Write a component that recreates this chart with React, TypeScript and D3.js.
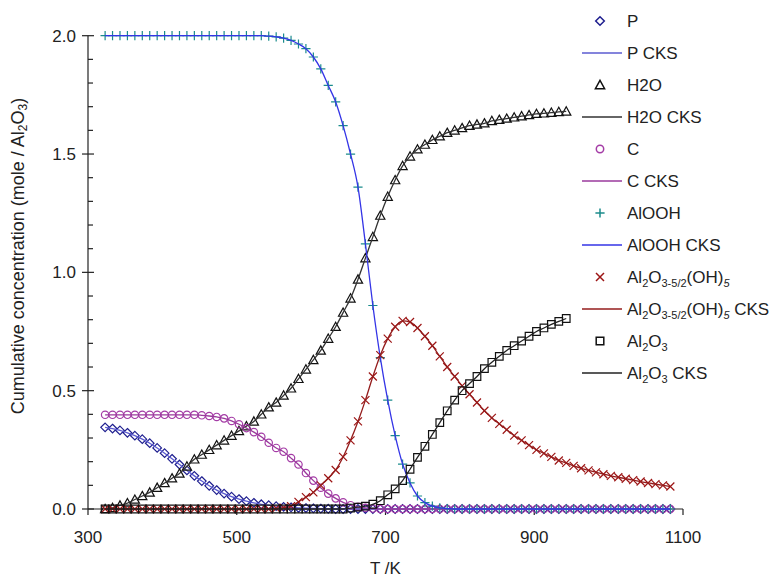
import React from "react";
import * as d3 from "d3";

// Temperatures (K) at which the markers are drawn
const TEMPS = [
  323, 333, 343, 353, 363, 373, 383, 393, 403, 413,
  423, 433, 443, 453, 463, 473, 483, 493, 503, 513,
  523, 533, 543, 553, 563, 573, 583, 593, 603, 613,
  623, 633, 643, 653, 663, 673, 683, 693, 703, 713,
  723, 733, 743, 753, 763, 773, 783, 793, 803, 813,
  823, 833, 843, 853, 863, 873, 883, 893, 903, 913,
  923, 933, 943, 953, 963, 973, 983, 993, 1003, 1013,
  1023, 1033, 1043, 1053, 1063, 1073, 1083,
];

const P_VALUES = [
  0.345, 0.34, 0.332, 0.322, 0.31, 0.295, 0.278, 0.258, 0.236, 0.212,
  0.188, 0.163, 0.14, 0.118, 0.098, 0.08, 0.065, 0.052, 0.042, 0.033,
  0.026, 0.02, 0.016, 0.012, 0.009, 0.007, 0.005, 0.004, 0.003, 0.002,
  0.001, 0, 0, 0, 0, 0, 0, 0, 0, 0,
  0, 0, 0, 0, 0, 0, 0, 0, 0, 0,
  0, 0, 0, 0, 0, 0, 0, 0, 0, 0,
  0, 0, 0, 0, 0, 0, 0, 0, 0, 0,
  0, 0, 0, 0, 0, 0, 0,
];

const H2O_VALUES = [
  0, 0.005, 0.015, 0.025, 0.04, 0.055, 0.07, 0.09, 0.11, 0.13,
  0.15, 0.18, 0.21, 0.23, 0.25, 0.27, 0.29, 0.31, 0.33, 0.35,
  0.37, 0.4, 0.43, 0.45, 0.48, 0.51, 0.55, 0.59, 0.63, 0.67,
  0.72, 0.77, 0.83, 0.89, 0.97, 1.06, 1.15, 1.24, 1.32, 1.39,
  1.45, 1.49, 1.52, 1.54, 1.56, 1.575, 1.59, 1.6, 1.61, 1.62,
  1.625, 1.63, 1.64, 1.645, 1.65, 1.655, 1.66, 1.665, 1.67, 1.672,
  1.675, 1.678, 1.68,
];

const C_VALUES = [
  0.398, 0.398, 0.398, 0.398, 0.398, 0.398, 0.398, 0.398, 0.398, 0.398,
  0.398, 0.398, 0.398, 0.396, 0.393, 0.389, 0.383, 0.372, 0.358, 0.342,
  0.325, 0.305, 0.28, 0.258, 0.242, 0.215, 0.188, 0.152, 0.12, 0.09,
  0.065, 0.045, 0.028, 0.016, 0.009, 0.005, 0.002, 0, 0, 0,
  0, 0, 0, 0, 0, 0, 0, 0, 0, 0,
  0, 0, 0, 0, 0, 0, 0, 0, 0, 0,
  0, 0, 0, 0, 0, 0, 0, 0, 0, 0,
  0, 0, 0, 0, 0, 0, 0,
];

const ALOOH_VALUES = [
  2, 2, 2, 2, 2, 2, 2, 2, 2, 2,
  2, 2, 2, 2, 2, 2, 2, 2, 2, 2,
  2, 2, 1.998, 1.995, 1.99, 1.98, 1.965, 1.945, 1.91, 1.86,
  1.79, 1.72, 1.62, 1.5, 1.36, 1.12, 0.86, 0.64, 0.46, 0.31,
  0.19, 0.11, 0.055, 0.027, 0.012, 0.005, 0.002, 0, 0, 0,
  0, 0, 0, 0, 0, 0, 0, 0, 0, 0,
  0, 0, 0, 0, 0, 0, 0, 0, 0, 0,
  0, 0, 0, 0, 0, 0, 0,
];

const AL2O3_52_VALUES = [
  0, 0, 0, 0, 0, 0, 0, 0, 0, 0,
  0, 0, 0, 0, 0, 0, 0, 0, 0, 0,
  0, 0, 0, 0.003, 0.006, 0.012, 0.03, 0.05, 0.07, 0.1,
  0.13, 0.165, 0.22, 0.29, 0.37, 0.46, 0.56, 0.65, 0.72, 0.77,
  0.795, 0.79, 0.765, 0.73, 0.69, 0.645, 0.6, 0.56, 0.52, 0.485,
  0.45, 0.415, 0.385, 0.36, 0.335, 0.31, 0.29, 0.27, 0.25, 0.235,
  0.22, 0.205, 0.195, 0.182, 0.172, 0.163, 0.155, 0.147, 0.14, 0.134,
  0.128, 0.122, 0.116, 0.11, 0.105, 0.1, 0.095,
];

const AL2O3_VALUES = [
  0, 0, 0, 0, 0, 0, 0, 0, 0, 0,
  0, 0, 0, 0, 0, 0, 0, 0, 0, 0,
  0, 0, 0, 0, 0, 0, 0, 0, 0, 0,
  0, 0, 0, 0.004, 0.008, 0.012, 0.02, 0.035, 0.06, 0.085,
  0.12, 0.168, 0.218, 0.265, 0.315, 0.365, 0.415, 0.46, 0.5, 0.53,
  0.56, 0.593, 0.62, 0.645, 0.67, 0.69, 0.71, 0.73, 0.75, 0.765,
  0.78, 0.793, 0.805,
];

const X_TICKS = [300, 500, 700, 900, 1100];
const Y_TICKS = [0, 0.5, 1.0, 1.5, 2.0];
const Y_MINOR_TICKS = [0.1, 0.2, 0.3, 0.4, 0.6, 0.7, 0.8, 0.9, 1.1, 1.2, 1.3, 1.4, 1.6, 1.7, 1.8, 1.9];

type Marker = "diamond" | "triangle" | "circle" | "plus" | "cross" | "square";

const SERIES: { key: string; values: number[]; marker: Marker; markerColor: string; lineColor: string }[] = [
  { key: "P", values: P_VALUES, marker: "diamond", markerColor: "#1f1f8f", lineColor: "#5b5bd0" },
  { key: "H2O", values: H2O_VALUES, marker: "triangle", markerColor: "#111111", lineColor: "#333333" },
  { key: "C", values: C_VALUES, marker: "circle", markerColor: "#a43ca6", lineColor: "#9a3a9c" },
  { key: "AlOOH", values: ALOOH_VALUES, marker: "plus", markerColor: "#1b8c8c", lineColor: "#3434e6" },
  { key: "Al2O3-5/2", values: AL2O3_52_VALUES, marker: "cross", markerColor: "#9c1414", lineColor: "#941c1c" },
  { key: "Al2O3", values: AL2O3_VALUES, marker: "square", markerColor: "#111111", lineColor: "#222222" },
];

const W = 771;
const H = 577;
const FONT = "'Liberation Sans', Arial, sans-serif";

const x = d3.scaleLinear().domain([300, 1100]).range([88, 683]);
const y = d3.scaleLinear().domain([0, 2]).range([509, 35.7]);

function markerPath(m: Marker, cx: number, cy: number): string {
  switch (m) {
    case "diamond": {
      const r = 4.3;
      return `M${cx},${cy - r}L${cx + r},${cy}L${cx},${cy + r}L${cx - r},${cy}Z`;
    }
    case "triangle": {
      const r = 4.6;
      return `M${cx},${cy - r}L${cx + r},${cy + r * 0.8}L${cx - r},${cy + r * 0.8}Z`;
    }
    case "circle": {
      const r = 3.7;
      return `M${cx - r},${cy}a${r},${r} 0 1,0 ${2 * r},0a${r},${r} 0 1,0 ${-2 * r},0Z`;
    }
    case "plus": {
      const r = 4.6;
      return `M${cx - r},${cy}L${cx + r},${cy}M${cx},${cy - r}L${cx},${cy + r}`;
    }
    case "cross": {
      const r = 4;
      return `M${cx - r},${cy - r}L${cx + r},${cy + r}M${cx - r},${cy + r}L${cx + r},${cy - r}`;
    }
    case "square": {
      const r = 3.8;
      return `M${cx - r},${cy - r}h${2 * r}v${2 * r}h${-2 * r}Z`;
    }
  }
}

const lineGen = d3
  .line<[number, number]>()
  .x((d) => x(d[0]))
  .y((d) => y(d[1]))
  .curve(d3.curveMonotoneX);

function Sub({ children, italic }: { children: React.ReactNode; italic?: boolean }) {
  return (
    <tspan fontSize={11} dy={4} fontStyle={italic ? "italic" : undefined}>
      {children}
    </tspan>
  );
}

const LEGEND_ROWS = [21, 53, 85, 117, 149, 181, 213, 245, 277, 309, 341, 373];

function legendLabel(i: number): React.ReactNode {
  switch (i) {
    case 0:
      return "P";
    case 1:
      return "P CKS";
    case 2:
      return "H2O";
    case 3:
      return "H2O CKS";
    case 4:
      return "C";
    case 5:
      return "C CKS";
    case 6:
      return "AlOOH";
    case 7:
      return "AlOOH CKS";
    case 8:
    case 9:
      return (
        <>
          Al<Sub>2</Sub>
          <tspan dy={-4}>O</tspan>
          <Sub>3-5/2</Sub>
          <tspan dy={-4}>(OH)</tspan>
          <Sub italic>5</Sub>
          {i === 9 ? <tspan dy={-4}> CKS</tspan> : null}
        </>
      );
    case 10:
    case 11:
      return (
        <>
          Al<Sub>2</Sub>
          <tspan dy={-4}>O</tspan>
          <Sub>3</Sub>
          {i === 11 ? <tspan dy={-4}> CKS</tspan> : null}
        </>
      );
  }
  return null;
}

export default function App() {
  const markerX = 600;
  return (
    <svg
      width={W}
      height={H}
      viewBox={`0 0 ${W} ${H}`}
      style={{ position: "absolute", left: 0, top: 0, background: "#fff" }}
    >
      <rect x={0} y={0} width={W} height={H} fill="#fff" />
      {/* axes */}
      <g stroke="#222" strokeWidth={1.2} fill="none">
        <line x1={x(300)} x2={x(1100)} y1={y(0)} y2={y(0)} />
        <line x1={x(300)} x2={x(300)} y1={y(2)} y2={y(0)} />
        {X_TICKS.map((t) => (
          <line key={"xt" + t} x1={x(t)} x2={x(t)} y1={y(0)} y2={y(0) + 6} />
        ))}
        {Y_TICKS.map((t) => (
          <line key={"yt" + t} x1={x(300) - 6} x2={x(300) + 6} y1={y(t)} y2={y(t)} />
        ))}
        {Y_MINOR_TICKS.map((t) => (
          <line key={"ym" + t} x1={x(300)} x2={x(300) + 5} y1={y(t)} y2={y(t)} />
        ))}
      </g>
      <g fontFamily={FONT} fontSize={17} fill="#222">
        {X_TICKS.map((t) => (
          <text key={"xl" + t} x={x(t)} y={543} textAnchor="middle">
            {t}
          </text>
        ))}
        {Y_TICKS.map((t) => (
          <text key={"yl" + t} x={76} y={y(t) + 6} textAnchor="end">
            {t.toFixed(1)}
          </text>
        ))}
        <text x={370} y={574}>
          T /K
        </text>
        <text transform={`translate(24,256) rotate(-90)`} textAnchor="middle" fontSize={18}>
          Cumulative concentration (mole / Al<tspan fontSize={12} dy={3}>2</tspan>
          <tspan dy={-3}>O</tspan>
          <tspan fontSize={12} dy={3}>3</tspan>
          <tspan dy={-3}>)</tspan>
        </text>
      </g>
      {/* series */}
      {SERIES.map((s) => {
        const pts: [number, number][] = s.values.map((v, i) => [TEMPS[i], v]);
        return (
          <g key={s.key}>
            <g stroke={s.markerColor} strokeWidth={1.2} fill="none">
              {pts.map((p, i) => (
                <path key={i} d={markerPath(s.marker, x(p[0]), y(p[1]))} />
              ))}
            </g>
            <path d={lineGen(pts) || ""} stroke={s.lineColor} strokeWidth={1.3} fill="none" />
          </g>
        );
      })}
      {/* legend */}
      <g fontFamily={FONT} fontSize={17} fill="#222">
        {SERIES.map((s, k) => {
          const ym = LEGEND_ROWS[2 * k];
          const yl = LEGEND_ROWS[2 * k + 1];
          return (
            <g key={"lg" + s.key}>
              <path
                d={markerPath(s.marker, markerX, ym)}
                stroke={s.markerColor}
                strokeWidth={1.5}
                fill="none"
              />
              <line x1={582} x2={622} y1={yl} y2={yl} stroke={s.lineColor} strokeWidth={1.3} />
              <text x={627} y={ym + 6}>
                {legendLabel(2 * k)}
              </text>
              <text x={627} y={yl + 6}>
                {legendLabel(2 * k + 1)}
              </text>
            </g>
          );
        })}
      </g>
    </svg>
  );
}
